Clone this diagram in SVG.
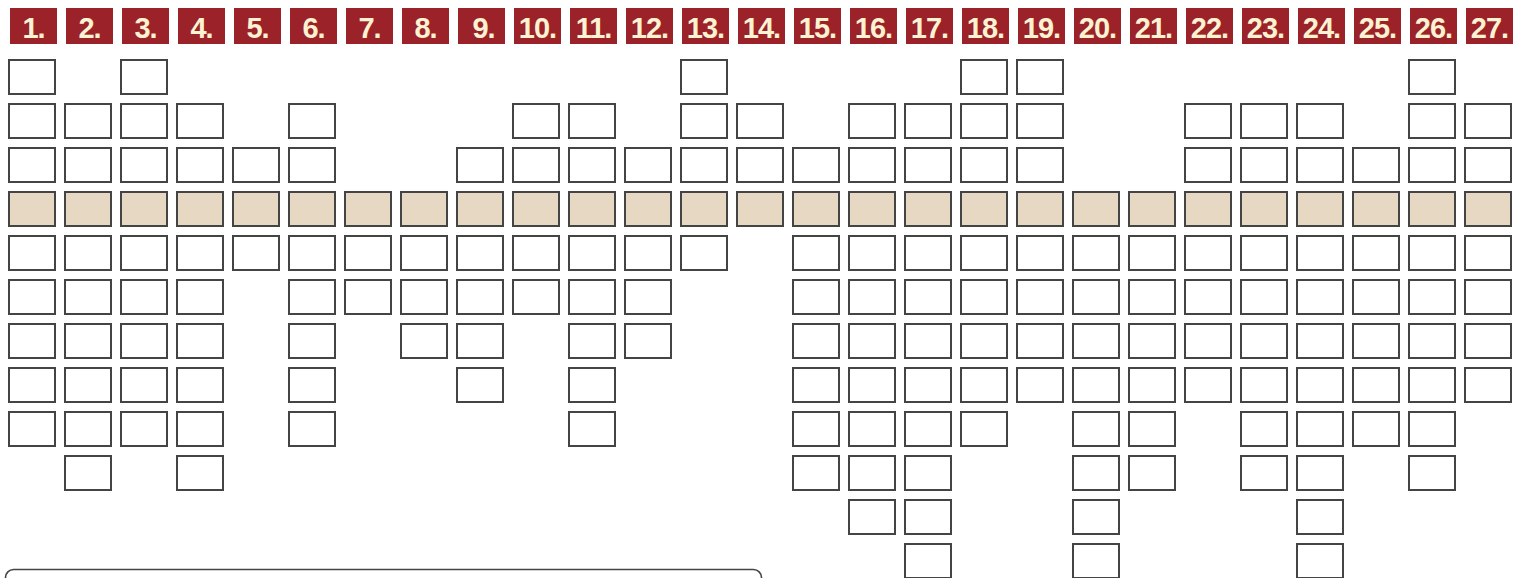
<svg xmlns="http://www.w3.org/2000/svg" xmlns:xlink="http://www.w3.org/1999/xlink" width="1514" height="578" viewBox="0 0 1514 578">
<style>
.h{fill:#9b2228}
.t{fill:#fdf2d2;font-family:"Liberation Sans",Arial,sans-serif;font-weight:bold;font-size:29px;letter-spacing:-1px;text-anchor:middle}
.bx{fill:#fff;stroke:#444;stroke-width:2}
.bk{fill:#e7d8c3;stroke:#444;stroke-width:2}
.panel{fill:#fff;stroke:#444;stroke-width:1.6}
</style>
<defs>
<rect id="b" class="bx" x="0" y="0" width="46" height="34"/>
<rect id="k" class="bk" x="0" y="0" width="46" height="34"/>
</defs>
<rect width="1514" height="578" fill="#fff"/>
<g id="headers">
<g id="h1"><rect class="h" x="10" y="8" width="47" height="36"/><text class="t" x="33.5" y="38">1.</text></g>
<g id="h2"><rect class="h" x="66" y="8" width="47" height="36"/><text class="t" x="89.5" y="38">2.</text></g>
<g id="h3"><rect class="h" x="122" y="8" width="47" height="36"/><text class="t" x="145.5" y="38">3.</text></g>
<g id="h4"><rect class="h" x="178" y="8" width="47" height="36"/><text class="t" x="201.5" y="38">4.</text></g>
<g id="h5"><rect class="h" x="234" y="8" width="47" height="36"/><text class="t" x="257.5" y="38">5.</text></g>
<g id="h6"><rect class="h" x="290" y="8" width="47" height="36"/><text class="t" x="313.5" y="38">6.</text></g>
<g id="h7"><rect class="h" x="346" y="8" width="47" height="36"/><text class="t" x="369.5" y="38">7.</text></g>
<g id="h8"><rect class="h" x="402" y="8" width="47" height="36"/><text class="t" x="425.5" y="38">8.</text></g>
<g id="h9"><rect class="h" x="458" y="8" width="47" height="36"/><text class="t" x="483.5" y="38">9.</text></g>
<g id="h10"><rect class="h" x="514" y="8" width="47" height="36"/><text class="t" x="537.5" y="38">10.</text></g>
<g id="h11"><rect class="h" x="570" y="8" width="47" height="36"/><text class="t" x="593.5" y="38">11.</text></g>
<g id="h12"><rect class="h" x="626" y="8" width="47" height="36"/><text class="t" x="649.5" y="38">12.</text></g>
<g id="h13"><rect class="h" x="682" y="8" width="47" height="36"/><text class="t" x="705.5" y="38">13.</text></g>
<g id="h14"><rect class="h" x="738" y="8" width="47" height="36"/><text class="t" x="761.5" y="38">14.</text></g>
<g id="h15"><rect class="h" x="794" y="8" width="47" height="36"/><text class="t" x="817.5" y="38">15.</text></g>
<g id="h16"><rect class="h" x="850" y="8" width="47" height="36"/><text class="t" x="873.5" y="38">16.</text></g>
<g id="h17"><rect class="h" x="906" y="8" width="47" height="36"/><text class="t" x="929.5" y="38">17.</text></g>
<g id="h18"><rect class="h" x="962" y="8" width="47" height="36"/><text class="t" x="985.5" y="38">18.</text></g>
<g id="h19"><rect class="h" x="1018" y="8" width="47" height="36"/><text class="t" x="1041.5" y="38">19.</text></g>
<g id="h20"><rect class="h" x="1074" y="8" width="47" height="36"/><text class="t" x="1097.5" y="38">20.</text></g>
<g id="h21"><rect class="h" x="1130" y="8" width="47" height="36"/><text class="t" x="1153.5" y="38">21.</text></g>
<g id="h22"><rect class="h" x="1186" y="8" width="47" height="36"/><text class="t" x="1209.5" y="38">22.</text></g>
<g id="h23"><rect class="h" x="1242" y="8" width="47" height="36"/><text class="t" x="1265.5" y="38">23.</text></g>
<g id="h24"><rect class="h" x="1298" y="8" width="47" height="36"/><text class="t" x="1321.5" y="38">24.</text></g>
<g id="h25"><rect class="h" x="1354" y="8" width="47" height="36"/><text class="t" x="1377.5" y="38">25.</text></g>
<g id="h26"><rect class="h" x="1410" y="8" width="47" height="36"/><text class="t" x="1433.5" y="38">26.</text></g>
<g id="h27"><rect class="h" x="1466" y="8" width="47" height="36"/><text class="t" x="1489.5" y="38">27.</text></g>
</g>
<g id="connectors"></g>
<g id="col1"><use href="#b" x="9" y="60"/><use href="#b" x="9" y="104"/><use href="#b" x="9" y="148"/><use href="#k" x="9" y="192"/><use href="#b" x="9" y="236"/><use href="#b" x="9" y="280"/><use href="#b" x="9" y="324"/><use href="#b" x="9" y="368"/><use href="#b" x="9" y="412"/></g>
<g id="col2"><use href="#b" x="65" y="104"/><use href="#b" x="65" y="148"/><use href="#k" x="65" y="192"/><use href="#b" x="65" y="236"/><use href="#b" x="65" y="280"/><use href="#b" x="65" y="324"/><use href="#b" x="65" y="368"/><use href="#b" x="65" y="412"/><use href="#b" x="65" y="456"/></g>
<g id="col3"><use href="#b" x="121" y="60"/><use href="#b" x="121" y="104"/><use href="#b" x="121" y="148"/><use href="#k" x="121" y="192"/><use href="#b" x="121" y="236"/><use href="#b" x="121" y="280"/><use href="#b" x="121" y="324"/><use href="#b" x="121" y="368"/><use href="#b" x="121" y="412"/></g>
<g id="col4"><use href="#b" x="177" y="104"/><use href="#b" x="177" y="148"/><use href="#k" x="177" y="192"/><use href="#b" x="177" y="236"/><use href="#b" x="177" y="280"/><use href="#b" x="177" y="324"/><use href="#b" x="177" y="368"/><use href="#b" x="177" y="412"/><use href="#b" x="177" y="456"/></g>
<g id="col5"><use href="#b" x="233" y="148"/><use href="#k" x="233" y="192"/><use href="#b" x="233" y="236"/></g>
<g id="col6"><use href="#b" x="289" y="104"/><use href="#b" x="289" y="148"/><use href="#k" x="289" y="192"/><use href="#b" x="289" y="236"/><use href="#b" x="289" y="280"/><use href="#b" x="289" y="324"/><use href="#b" x="289" y="368"/><use href="#b" x="289" y="412"/></g>
<g id="col7"><use href="#k" x="345" y="192"/><use href="#b" x="345" y="236"/><use href="#b" x="345" y="280"/></g>
<g id="col8"><use href="#k" x="401" y="192"/><use href="#b" x="401" y="236"/><use href="#b" x="401" y="280"/><use href="#b" x="401" y="324"/></g>
<g id="col9"><use href="#b" x="457" y="148"/><use href="#k" x="457" y="192"/><use href="#b" x="457" y="236"/><use href="#b" x="457" y="280"/><use href="#b" x="457" y="324"/><use href="#b" x="457" y="368"/></g>
<g id="col10"><use href="#b" x="513" y="104"/><use href="#b" x="513" y="148"/><use href="#k" x="513" y="192"/><use href="#b" x="513" y="236"/><use href="#b" x="513" y="280"/></g>
<g id="col11"><use href="#b" x="569" y="104"/><use href="#b" x="569" y="148"/><use href="#k" x="569" y="192"/><use href="#b" x="569" y="236"/><use href="#b" x="569" y="280"/><use href="#b" x="569" y="324"/><use href="#b" x="569" y="368"/><use href="#b" x="569" y="412"/></g>
<g id="col12"><use href="#b" x="625" y="148"/><use href="#k" x="625" y="192"/><use href="#b" x="625" y="236"/><use href="#b" x="625" y="280"/><use href="#b" x="625" y="324"/></g>
<g id="col13"><use href="#b" x="681" y="60"/><use href="#b" x="681" y="104"/><use href="#b" x="681" y="148"/><use href="#k" x="681" y="192"/><use href="#b" x="681" y="236"/></g>
<g id="col14"><use href="#b" x="737" y="104"/><use href="#b" x="737" y="148"/><use href="#k" x="737" y="192"/></g>
<g id="col15"><use href="#b" x="793" y="148"/><use href="#k" x="793" y="192"/><use href="#b" x="793" y="236"/><use href="#b" x="793" y="280"/><use href="#b" x="793" y="324"/><use href="#b" x="793" y="368"/><use href="#b" x="793" y="412"/><use href="#b" x="793" y="456"/></g>
<g id="col16"><use href="#b" x="849" y="104"/><use href="#b" x="849" y="148"/><use href="#k" x="849" y="192"/><use href="#b" x="849" y="236"/><use href="#b" x="849" y="280"/><use href="#b" x="849" y="324"/><use href="#b" x="849" y="368"/><use href="#b" x="849" y="412"/><use href="#b" x="849" y="456"/><use href="#b" x="849" y="500"/></g>
<g id="col17"><use href="#b" x="905" y="104"/><use href="#b" x="905" y="148"/><use href="#k" x="905" y="192"/><use href="#b" x="905" y="236"/><use href="#b" x="905" y="280"/><use href="#b" x="905" y="324"/><use href="#b" x="905" y="368"/><use href="#b" x="905" y="412"/><use href="#b" x="905" y="456"/><use href="#b" x="905" y="500"/><use href="#b" x="905" y="544"/></g>
<g id="col18"><use href="#b" x="961" y="60"/><use href="#b" x="961" y="104"/><use href="#b" x="961" y="148"/><use href="#k" x="961" y="192"/><use href="#b" x="961" y="236"/><use href="#b" x="961" y="280"/><use href="#b" x="961" y="324"/><use href="#b" x="961" y="368"/><use href="#b" x="961" y="412"/></g>
<g id="col19"><use href="#b" x="1017" y="60"/><use href="#b" x="1017" y="104"/><use href="#b" x="1017" y="148"/><use href="#k" x="1017" y="192"/><use href="#b" x="1017" y="236"/><use href="#b" x="1017" y="280"/><use href="#b" x="1017" y="324"/><use href="#b" x="1017" y="368"/></g>
<g id="col20"><use href="#k" x="1073" y="192"/><use href="#b" x="1073" y="236"/><use href="#b" x="1073" y="280"/><use href="#b" x="1073" y="324"/><use href="#b" x="1073" y="368"/><use href="#b" x="1073" y="412"/><use href="#b" x="1073" y="456"/><use href="#b" x="1073" y="500"/><use href="#b" x="1073" y="544"/></g>
<g id="col21"><use href="#k" x="1129" y="192"/><use href="#b" x="1129" y="236"/><use href="#b" x="1129" y="280"/><use href="#b" x="1129" y="324"/><use href="#b" x="1129" y="368"/><use href="#b" x="1129" y="412"/><use href="#b" x="1129" y="456"/></g>
<g id="col22"><use href="#b" x="1185" y="104"/><use href="#b" x="1185" y="148"/><use href="#k" x="1185" y="192"/><use href="#b" x="1185" y="236"/><use href="#b" x="1185" y="280"/><use href="#b" x="1185" y="324"/><use href="#b" x="1185" y="368"/></g>
<g id="col23"><use href="#b" x="1241" y="104"/><use href="#b" x="1241" y="148"/><use href="#k" x="1241" y="192"/><use href="#b" x="1241" y="236"/><use href="#b" x="1241" y="280"/><use href="#b" x="1241" y="324"/><use href="#b" x="1241" y="368"/><use href="#b" x="1241" y="412"/><use href="#b" x="1241" y="456"/></g>
<g id="col24"><use href="#b" x="1297" y="104"/><use href="#b" x="1297" y="148"/><use href="#k" x="1297" y="192"/><use href="#b" x="1297" y="236"/><use href="#b" x="1297" y="280"/><use href="#b" x="1297" y="324"/><use href="#b" x="1297" y="368"/><use href="#b" x="1297" y="412"/><use href="#b" x="1297" y="456"/><use href="#b" x="1297" y="500"/><use href="#b" x="1297" y="544"/></g>
<g id="col25"><use href="#b" x="1353" y="148"/><use href="#k" x="1353" y="192"/><use href="#b" x="1353" y="236"/><use href="#b" x="1353" y="280"/><use href="#b" x="1353" y="324"/><use href="#b" x="1353" y="368"/><use href="#b" x="1353" y="412"/></g>
<g id="col26"><use href="#b" x="1409" y="60"/><use href="#b" x="1409" y="104"/><use href="#b" x="1409" y="148"/><use href="#k" x="1409" y="192"/><use href="#b" x="1409" y="236"/><use href="#b" x="1409" y="280"/><use href="#b" x="1409" y="324"/><use href="#b" x="1409" y="368"/><use href="#b" x="1409" y="412"/><use href="#b" x="1409" y="456"/></g>
<g id="col27"><use href="#b" x="1465" y="104"/><use href="#b" x="1465" y="148"/><use href="#k" x="1465" y="192"/><use href="#b" x="1465" y="236"/><use href="#b" x="1465" y="280"/><use href="#b" x="1465" y="324"/><use href="#b" x="1465" y="368"/></g>
<g id="panel"><rect class="panel" x="5.5" y="569.5" width="756" height="60" rx="8" ry="8"/></g>
</svg>
